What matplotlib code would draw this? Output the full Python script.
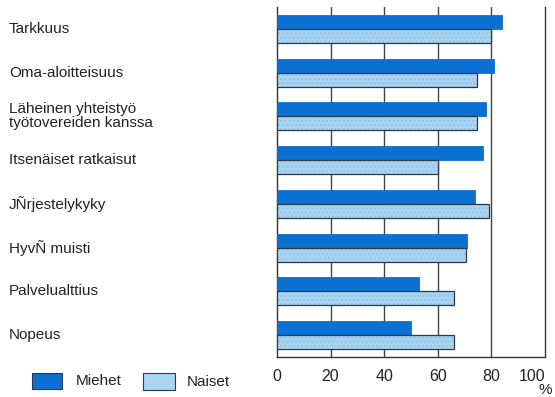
import matplotlib
matplotlib.use("Agg")
import matplotlib.pyplot as plt
from matplotlib.patches import Rectangle
from matplotlib.transforms import ScaledTranslation
import numpy as np

# ominaisuudet ylhaalta alas
ominaisuudet = ["Tarkkuus", "Oma-aloitteisuus", "Läheinen yhteistyö\ntyötovereiden kanssa",
                "Itsenäiset ratkaisut", "JÑrjestelykyky", "HyvÑ muisti",
                "Palvelualttius", "Nopeus"]
miehet = [84, 81, 78, 77, 74, 71, 53, 50]
naiset = [80, 74.5, 74.5, 60, 79, 70.5, 66, 66]
xtikit = [0, 20, 40, 60, 80, 100]

tumma = "#0a70d2"
vaalea = "#a9d5f2"
reuna = "#2a3a4a"

plt.rcParams["font.family"] = ["Liberation Sans", "DejaVu Sans"]

fig = plt.figure(figsize=(5.55, 3.97), dpi=100)
ax = fig.add_axes([0.499, 0.101, 0.483, 0.881])

n = len(ominaisuudet)
y = np.arange(n)
h = 0.32
ax.barh(y - h / 2, miehet, height=h, color=tumma, edgecolor=tumma, linewidth=0.6, zorder=3)
# vaalea palkki: pisterasteri ja erillinen reunaviiva
ax.barh(y + h / 2, naiset, height=h, color=vaalea, edgecolor="#8fc3e8", linewidth=0,
        hatch="....", zorder=3)
ax.barh(y + h / 2, naiset, height=h, fill=False, edgecolor=reuna, linewidth=0.9, zorder=4)

ax.set_xlim(0, 100)
ax.set_ylim(n - 0.5, -0.5)
ax.set_yticks([])
ax.set_xticks(xtikit)
ax.set_xticklabels([str(t) for t in xtikit], fontsize=11.5, color="#222222")
viimeinen = ax.get_xticklabels()[-1]
viimeinen.set_horizontalalignment("right")
viimeinen.set_transform(viimeinen.get_transform() + ScaledTranslation(0.08, 0, fig.dpi_scale_trans))
ax.tick_params(axis="x", length=0, pad=9)
for t in xtikit[1:-1]:
    ax.axvline(t, color="#444444", linewidth=1.0, zorder=1)
ax.spines["top"].set_visible(False)
for s in ["left", "right", "bottom"]:
    ax.spines[s].set_color("#333333")
    ax.spines[s].set_linewidth(1.0)

# kategorioiden nimet vasemmalle
for i, nimi in enumerate(ominaisuudet):
    ax.text(-268 / 2.68, i, nimi, transform=ax.transData, ha="left", va="center",
            fontsize=11, color="#222222", linespacing=1.0, clip_on=False)

fig.text(0.995, 0.0, "%", ha="right", va="bottom", fontsize=11, color="#222222")

# selite
fig.patches.append(Rectangle((32 / 555, 1 - 389 / 397), 30 / 555, 16 / 397,
                             transform=fig.transFigure, facecolor=tumma, edgecolor=reuna,
                             linewidth=0.8))
fig.text(76 / 555, 1 - 381 / 397, "Miehet", ha="left", va="center", fontsize=11, color="#222222")
fig.patches.append(Rectangle((143 / 555, 1 - 390 / 397), 32 / 555, 17 / 397,
                             transform=fig.transFigure, facecolor=vaalea, edgecolor=reuna,
                             linewidth=0.8))
fig.text(187 / 555, 1 - 382 / 397, "Naiset", ha="left", va="center", fontsize=11, color="#222222")

fig.savefig("out.png", dpi=100)
